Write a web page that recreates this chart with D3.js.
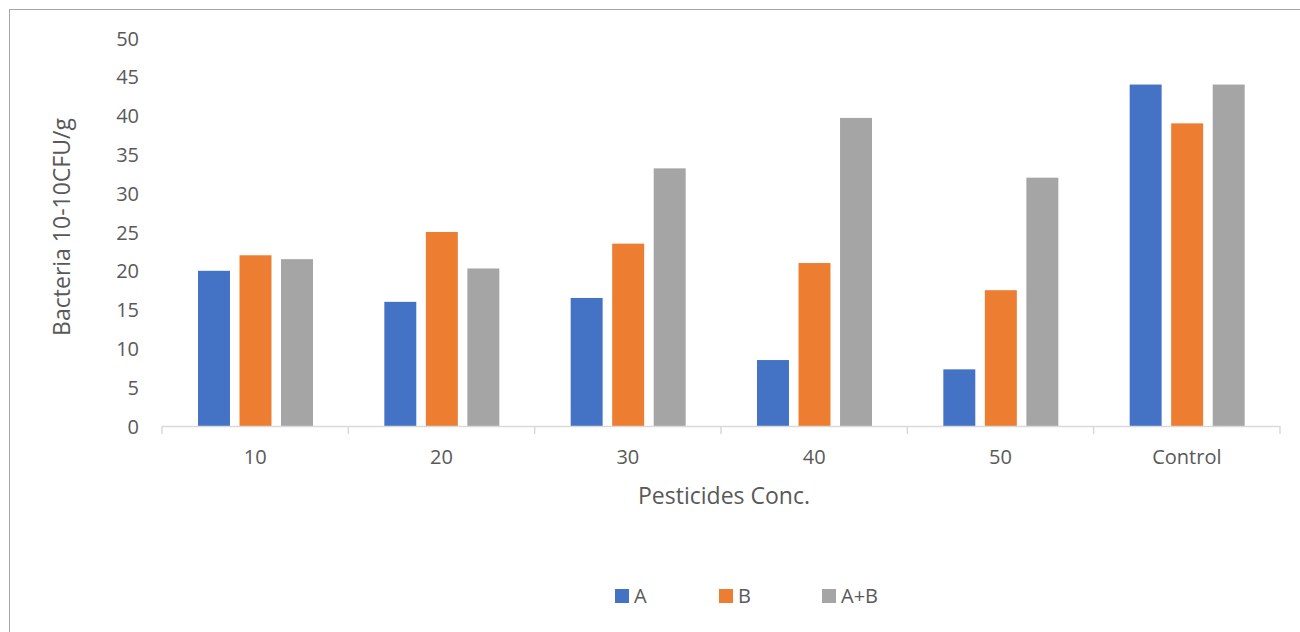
<!DOCTYPE html>
<html lang="en">
<head>
    <meta charset="UTF-8">
    <title>Bacteria vs Pesticides Conc.</title>
    <script src="https://d3js.org/d3.v7.min.js"></script>
    <style>
        body { margin: 0; background: #fff; }
        svg { display: block; font-family: "Open Sans", sans-serif; }
    </style>
</head>
<body>
    <script>
        const categories = ['10', '20', '30', '40', '50', 'Control'];
        const seriesNames = ['A', 'B', 'A+B'];
        const valuesA = [20, 16, 16.5, 8.5, 7.3, 44];
        const valuesB = [22, 25, 23.5, 21, 17.5, 39];
        const valuesAB = [21.5, 20.3, 33.2, 39.7, 32, 44];
        const yTicks = [0, 5, 10, 15, 20, 25, 30, 35, 40, 45, 50];
        const colors = ['#4472C4', '#ED7D31', '#A5A5A5'];

        const W = 1300, H = 632;
        const plotLeft = 162, plotRight = 1280, plotTop = 38, plotBottom = 426;
        const textColor = '#595959';

        const svg = d3.select('body').append('svg').attr('width', W).attr('height', H);

        // outer chart border
        svg.append('rect')
            .attr('x', 9.5).attr('y', 9.5)
            .attr('width', W).attr('height', H)
            .attr('fill', 'none').attr('stroke', '#a6a6a6');

        const x = d3.scaleBand().domain(categories).range([plotLeft, plotRight]);
        const inner = d3.scaleBand().domain(seriesNames).range([36, 151]).paddingInner(0.23);
        const y = d3.scaleLinear().domain([0, 50]).range([plotBottom, plotTop]);

        const rows = categories.map((c, i) => ({
            cat: c,
            vals: [valuesA[i], valuesB[i], valuesAB[i]]
        }));

        const groups = svg.selectAll('g.grp').data(rows).enter().append('g')
            .attr('transform', d => `translate(${x(d.cat)},0)`);

        groups.selectAll('rect')
            .data(d => d.vals.map((v, j) => ({ s: seriesNames[j], v: v, j: j })))
            .enter().append('rect')
            .attr('x', d => inner(d.s))
            .attr('width', inner.bandwidth())
            .attr('y', d => y(d.v))
            .attr('height', d => plotBottom - y(d.v))
            .attr('fill', d => colors[d.j]);

        // y axis (labels only)
        const yAxis = d3.axisLeft(y).tickValues(yTicks).tickSize(0).tickPadding(0);
        const gy = svg.append('g').attr('transform', 'translate(139,0)').call(yAxis)
            .attr('font-family', '"Open Sans", sans-serif').attr('font-size', 20);
        gy.select('.domain').remove();
        gy.selectAll('text').attr('dy', '0.35em').attr('fill', textColor);

        // x axis
        const gx = svg.append('g').attr('transform', `translate(0,${plotBottom})`);
        gx.append('line').attr('x1', plotLeft).attr('x2', plotRight).attr('y1', 0.5).attr('y2', 0.5)
            .attr('stroke', '#d9d9d9').attr('stroke-width', 1.5);
        const bounds = categories.map(c => x(c)).concat([plotRight]);
        gx.selectAll('line.tk').data(bounds).enter().append('line')
            .attr('x1', d => d).attr('x2', d => d).attr('y1', 0).attr('y2', 8)
            .attr('stroke', '#d9d9d9').attr('stroke-width', 1.5);
        const xAxis = d3.axisBottom(x).tickSize(0).tickPadding(0);
        const gxl = svg.append('g').attr('transform', `translate(0,${plotBottom})`).call(xAxis)
            .attr('font-family', '"Open Sans", sans-serif').attr('font-size', 20);
        gxl.select('.domain').remove();
        gxl.selectAll('text').attr('dy', 0).attr('y', 38).attr('fill', textColor);

        // axis titles
        svg.append('text')
            .attr('x', (plotLeft + plotRight) / 2 + 3).attr('y', 504)
            .attr('text-anchor', 'middle')
            .attr('fill', textColor).attr('font-size', 23)
            .text('Pesticides Conc.');
        svg.append('text')
            .attr('transform', 'translate(70,227) rotate(-90)')
            .attr('text-anchor', 'middle')
            .attr('fill', textColor).attr('font-size', 23)
            .text('Bacteria 10-10CFU/g');

        // legend
        const legendX = [615, 719, 822];
        const lg = svg.selectAll('g.lg').data(seriesNames).enter().append('g')
            .attr('transform', (d, i) => `translate(${legendX[i]},589)`);
        lg.append('rect').attr('width', 14).attr('height', 14).attr('fill', (d, i) => colors[i]);
        lg.append('text').attr('x', 19).attr('y', 14)
            .attr('fill', textColor).attr('font-size', 20).text(d => d);
    </script>
</body>
</html>
